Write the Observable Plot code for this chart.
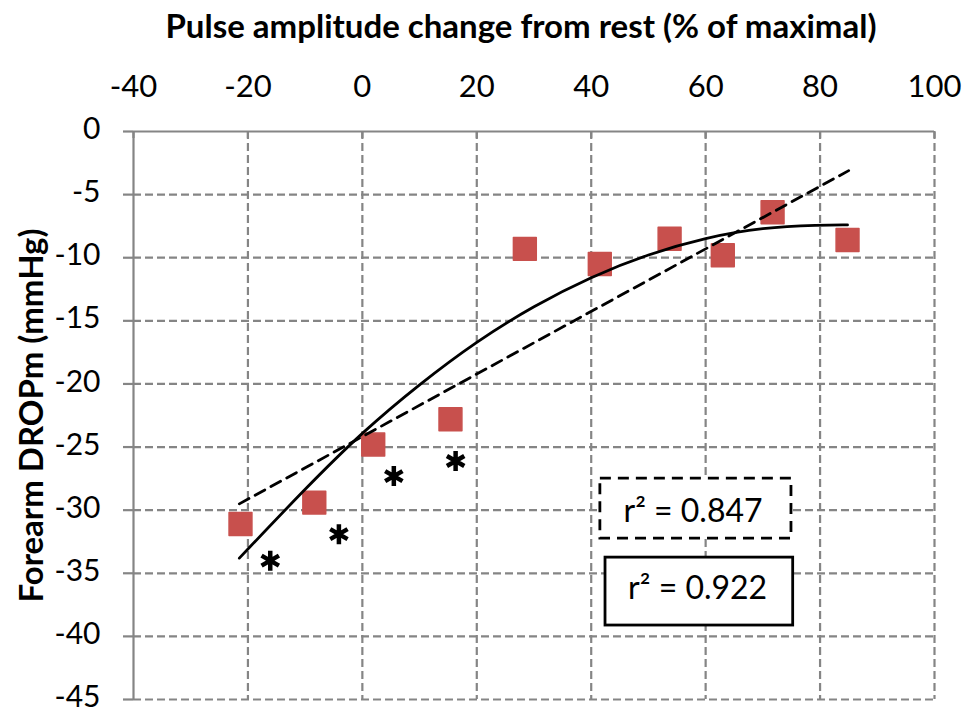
<!DOCTYPE html>
<html>
<head>
<meta charset="utf-8">
<script src="https://cdn.jsdelivr.net/npm/d3@7"></script>
<script src="https://cdn.jsdelivr.net/npm/@observablehq/plot@0.6"></script>
<style>
  body { margin: 0; background: #fff; }
  #chart svg { display: block; }
</style>
</head>
<body>
<div id="chart"></div>
<script>
// Measured points (red squares)
const pulseChange = [-21.3, -8.4, 1.9, 15.4, 28.4, 41.5, 53.7, 63.0, 71.7, 84.8];
const dropm       = [-31.1, -29.4, -24.8, -22.8, -9.3, -10.5, -8.5, -9.8, -6.4, -8.6];

// Significance asterisks
const starX = [-16.1, -4.1, 5.5, 16.3];
const starY = [-34.0, -31.9, -27.3, -26.1];

// Linear fit (dashed)
const linX = [-21.5, 85.0];
const linY = [-29.5, -3.1];

// Quadratic fit (solid)
const quadX = [-21.5, -10, 0, 10, 20, 30, 40, 50, 60, 70, 80, 84.8];
const quadY = [-33.8, -28.3, -23.8, -20.0, -16.6, -13.8, -11.5, -9.7, -8.4, -7.6, -7.4, -7.4];

// Tick values
const xTicks = [-40, -20, 0, 20, 40, 60, 80, 100];
const yTicks = [0, -5, -10, -15, -20, -25, -30, -35, -40, -45];

// Axis titles
const xTitle = "Pulse amplitude change from rest (% of maximal)";
const yTitle = "Forearm DROPm (mmHg)";

// r² annotations
const r2Labels = ["r² = 0.847", "r² = 0.922"];
const r2X = [57.8, 58.6];
const r2Y = [-30.1, -36.2];
const boxX1 = [41.6, 42.5], boxX2 = [75.0, 75.3];
const boxY1 = [-27.5, -33.76], boxY2 = [-32.25, -39.14];

const points = pulseChange.map((x, i) => ({x, y: dropm[i]}));
const stars = starX.map((x, i) => ({x, y: starY[i]}));
const lin = linX.map((x, i) => ({x, y: linY[i]}));
const quad = quadX.map((x, i) => ({x, y: quadY[i]}));
const boxes = r2Labels.map((t, i) => ({t, x: r2X[i], y: r2Y[i], x1: boxX1[i], x2: boxX2[i], y1: boxY1[i], y2: boxY2[i], dashed: i === 0}));

const grid = "#858585";
const fmt = d => String(d);

const chart = Plot.plot({
  width: 975,
  height: 714,
  marginLeft: 133,
  marginRight: 41,
  marginTop: 131,
  marginBottom: 15,
  style: {fontFamily: "Lato, 'Open Sans', sans-serif", background: "#fff", color: "#000"},
  x: {domain: [-40, 100]},
  y: {domain: [-45, 0]},
  marks: [
    Plot.gridX(xTicks.filter(d => d !== -40), {stroke: grid, strokeOpacity: 1, strokeWidth: 2.2, strokeDasharray: "8,4"}),
    Plot.gridY(yTicks.filter(d => d !== 0), {stroke: grid, strokeOpacity: 1, strokeWidth: 2.2, strokeDasharray: "8,4"}),
    Plot.ruleY([0], {stroke: grid, strokeWidth: 2.2}),
    Plot.ruleX([-40], {stroke: grid, strokeWidth: 2.2}),
    Plot.axisX({anchor: "top", ticks: xTicks, tickFormat: fmt, tickSize: 0, tickPadding: 35, fontSize: 31, label: null}),
    Plot.axisX({anchor: "top", ticks: xTicks, tickFormat: () => "", tickSize: -6, tickPadding: 0, label: null, stroke: grid, strokeWidth: 2.2}),
    Plot.axisY({anchor: "left", ticks: yTicks, tickFormat: fmt, tickSize: 0, tickPadding: 33, fontSize: 30, dy: -2, label: null}),
    Plot.axisY({anchor: "left", ticks: yTicks, tickFormat: () => "", tickSize: 10, tickPadding: 0, label: null, stroke: grid, strokeWidth: 2.2}),
    Plot.text([xTitle], {frameAnchor: "top", dx: -13, dy: -104, textAnchor: "middle", lineAnchor: "middle", fontSize: 33, fontWeight: "bold", fill: "#000"}),
    Plot.text([yTitle], {frameAnchor: "left", rotate: -90, dx: -101, dy: 0, textAnchor: "middle", lineAnchor: "middle", fontSize: 33, fontWeight: "bold", fill: "#000"}),
    Plot.dot(points, {x: "x", y: "y", symbol: "square", r: 12.9, fill: "#c8504d", stroke: "#c8504d", strokeWidth: 1.5, strokeLinejoin: "round"}),
    Plot.line(lin, {x: "x", y: "y", stroke: "#000", strokeWidth: 2.8, strokeDasharray: "11,7"}),
    Plot.line(quad, {x: "x", y: "y", stroke: "#000", strokeWidth: 2.8, curve: "basis"}),
    Plot.dot(stars, {x: "x", y: "y", symbol: "asterisk", r: 9.5, stroke: "#000", strokeWidth: 4.5}),
    Plot.rect(boxes.filter(d => d.dashed), {x1: "x1", x2: "x2", y1: "y1", y2: "y2", fill: "#fff", stroke: "#000", strokeWidth: 2.8, strokeDasharray: "11,7"}),
    Plot.rect(boxes.filter(d => !d.dashed), {x1: "x1", x2: "x2", y1: "y1", y2: "y2", fill: "#fff", stroke: "#000", strokeWidth: 2.8}),
    Plot.text(boxes, {x: "x", y: "y", text: "t", fontSize: 32, fill: "#000", lineAnchor: "middle"})
  ]
});
document.getElementById("chart").appendChild(chart);
</script>
</body>
</html>
